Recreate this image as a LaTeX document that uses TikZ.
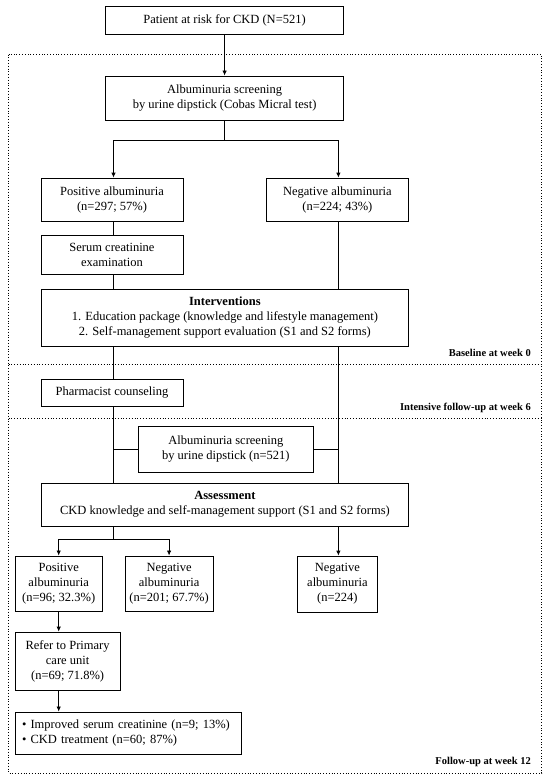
\documentclass[tikz,border=0pt]{standalone}
\usepackage{fontspec}
\setmainfont{Liberation Serif}
\usetikzlibrary{arrows.meta}
\begin{document}
\begin{tikzpicture}[x=1pt,y=-1pt,
  box/.style={draw, line width=0.8pt, align=center, inner sep=0pt, font=\fontsize{12.5}{15}\selectfont},
  conn/.style={line width=0.8pt},
  arr/.style={line width=0.8pt, -{Latex[length=5pt,width=4.5pt]}},
  sep/.style={line width=0.8pt, dotted},
  phase/.style={anchor=east, inner sep=0pt, font=\fontsize{10.5}{12}\selectfont\bfseries}]
\useasboundingbox (0,0) rectangle (550,782);
\coordinate (L) at (113.5,0);
\coordinate (R) at (338.4,0);
% phase frames
\draw[sep] (8.5,54.5) rectangle (541.7,773);
\draw[sep] (8.5,364) -- (541.7,364);
\draw[sep] (8.5,418.5) -- (541.7,418.5);
\node[phase] (ph1) at (531,352.7) {Baseline at week 0};
\node[phase] (ph2) at (531,407.7) {Intensive follow-up at week 6};
\node[phase] (ph3) at (531,761.7) {Follow-up at week 12};
% boxes
\node[box, minimum width=237.6pt, minimum height=28pt] (top) at (224.6,20) {Patient at risk for CKD (N=521)};
\node[box, minimum width=237.6pt, minimum height=44.7pt] (scr1) at (224.6,98.3) {Albuminuria screening\\by urine dipstick (Cobas Micral test)};
\node[box, minimum width=141.9pt, minimum height=43pt] (pos1) at (112,199.5) {Positive albuminuria\\(n=297; 57\%)};
\node[box, minimum width=142.9pt, minimum height=43pt] (neg1) at (337.4,199.5) {Negative albuminuria\\(n=224; 43\%)};
\node[box, minimum width=141.9pt, minimum height=39pt] (serum) at (112,254.5) {Serum creatinine\\examination};
\node[box, minimum width=367.8pt, minimum height=57pt] (interv) at (224.9,317.5) {\textbf{Interventions}\\1. Education package (knowledge and lifestyle management)\\2. Self-management support evaluation (S1 and S2 forms)};
\node[box, minimum width=141.9pt, minimum height=27pt] (pharm) at (112,392.5) {Pharmacist counseling};
\node[box, minimum width=174.8pt, minimum height=46.7pt] (scr2) at (225.8,449.3) {Albuminuria screening\\by urine dipstick (n=521)};
\node[box, minimum width=367.8pt, minimum height=43pt] (assess) at (224.9,504.5) {\textbf{Assessment}\\CKD knowledge and self-management support (S1 and S2 forms)};
\node[box, minimum width=87.3pt, minimum height=55.7pt] (pos2) at (58.7,583.8) {Positive\\albuminuria\\(n=96; 32.3\%)};
\node[box, minimum width=87.9pt, minimum height=55.7pt] (neg2) at (169.1,583.8) {Negative\\albuminuria\\(n=201; 67.7\%)};
\node[box, minimum width=80.5pt, minimum height=56pt] (neg3) at (337.4,584) {Negative\\albuminuria\\(n=224)};
\node[box, minimum width=105.1pt, minimum height=58pt] (refer) at (67.6,661) {Refer to Primary\\care unit\\(n=69; 71.8\%)};
\node[box, minimum width=226pt, minimum height=42.7pt, align=left, text width=212pt, inner xsep=7pt] (final) at (128,733.3) {\textbullet\ Improved serum creatinine (n=9; 13\%)\\\textbullet\ CKD treatment (n=60; 87\%)};
% connectors
\draw[arr] (top) -- (scr1);
\draw[conn] (scr1.south) -- ++(0,19.3) coordinate (b1);
\draw[arr] (b1) -| (L |- pos1.north);
\draw[arr] (b1) -| (R |- neg1.north);
\draw[conn] (L |- pos1.south) -- (L |- serum.north);
\draw[conn] (L |- serum.south) -- (L |- interv.north);
\draw[conn] (R |- neg1.south) -- (R |- interv.north);
\draw[conn] (L |- interv.south) -- (L |- pharm.north);
\draw[conn] (L |- pharm.south) -- (L |- assess.north);
\draw[conn] (R |- interv.south) -- (R |- assess.north);
\draw[conn] (scr2.west) -- (L |- scr2.west);
\draw[conn] (scr2.east) -- (R |- scr2.east);
\draw[conn] (L |- assess.south) -- ++(0,13) coordinate (b2);
\draw[arr] (b2) -| (pos2.north);
\draw[arr] (b2) -| (neg2.north);
\draw[arr] (R |- assess.south) -- (R |- neg3.north);
\draw[arr] (pos2.south) -- (pos2.south |- refer.north);
\draw[arr] (pos2.south |- refer.south) -- (pos2.south |- final.north);
\end{tikzpicture}
\end{document}
